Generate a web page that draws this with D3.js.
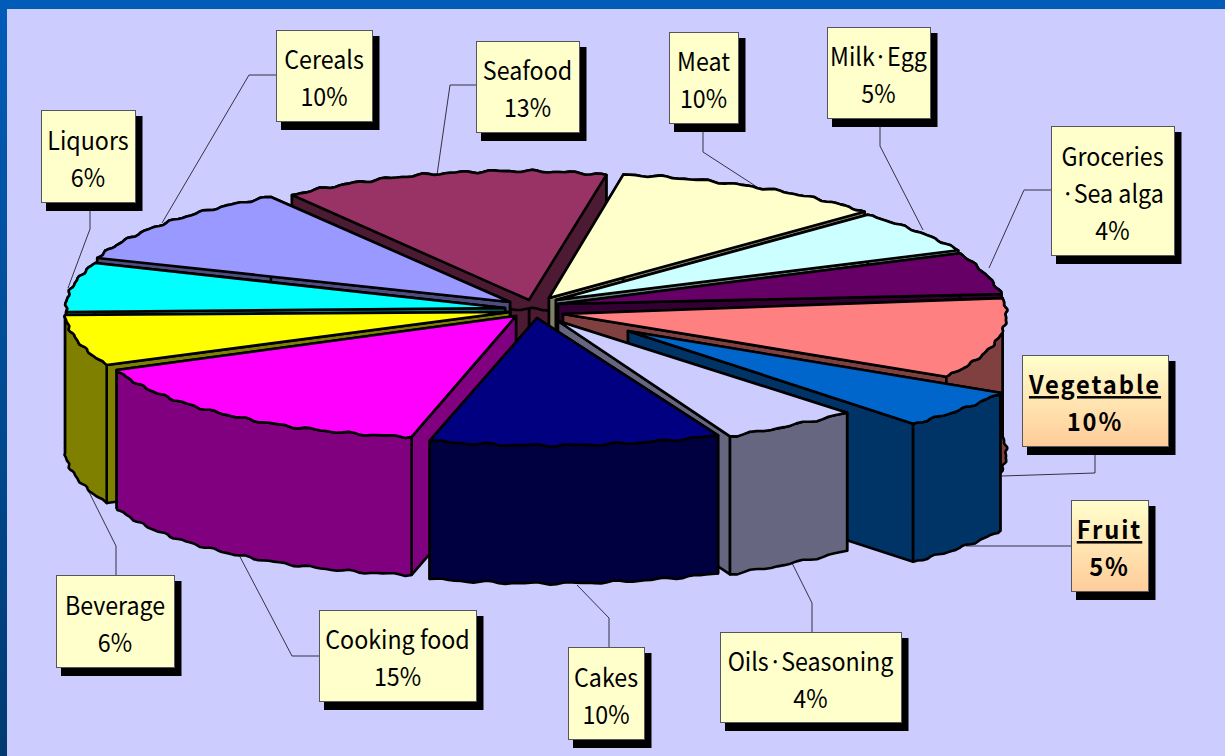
<!DOCTYPE html>
<html><head><meta charset="utf-8">
<script src="https://cdn.jsdelivr.net/npm/d3@7"></script>
<style>html,body{margin:0;padding:0;background:#ccccff;overflow:hidden}svg{display:block}</style>
</head><body><svg id="c" width="1225" height="756"></svg>
<script>
// ---- data ----
const categories = ["Seafood","Meat","Milk·Egg","Groceries\n·Sea alga","Vegetable","Fruit","Oils·Seasoning","Cakes","Cooking food","Beverage","Liquors","Cereals"];
const percents   = [13,10,5,4,10,5,4,10,15,6,6,10];
const emphasised = ["Vegetable","Fruit"];
// ---- styles ----
const topColors  = ["#993366","#ffffcc","#ccffff","#660066","#ff8080","#0066cc","#ccccff","#000080","#ff00ff","#ffff00","#00ffff","#9999ff"];
const sideColors = ["#4d1a33","#808066","#668080","#330033","#804040","#003366","#666680","#000040","#800080","#808000","#008080","#4d4d80"];
// ---- layout (hand-placed, as in the original slide) ----
const rimShifts = [[-8,9.5,-72,1.4],[-55,1,-53,-13],[-50,-10,-26,-14],[-24,-11,-3,-5],[-2,-1,23,-6],[77,10,93,9],[27,-2,14,4],[2,3,9,2],[-9,-2,21,16],[11,11,0,13],[1,10,-8,12.5],[-6,7.5,-29,11.5]];
const apexes = [[529,300],[549,298],[556,300],[558,304],[563,314],[628,331],[558,321],[537,318],[516,316],[510,312],[505,308],[510,302]];
const drawOrder = [0,11,1,10,2,3,9,4,8,5,6,7];
const boxes = [[476,41,103,91],[669,32,69,91],[827,27,103,91],[1051,126,123,129],[1022,355,146,91],[1071,500,77,91],[720,632,181,90],[568,647,76,92],[319,610,157,91],[56,575,118,92],[41,110,94,92],[276,30,96,91]];
const leaders = [
 [[476,85],[450,85],[437,175]],[[703,123],[703,152],[757,187]],[[880,118],[880,146],[923,230]],
 [[1051,190],[1024,190],[989,268]],[[1095,446],[1095,473],[1002,476]],[[1071,546],[966,546]],
 [[812,632],[812,603],[792,563]],[[609,647],[609,618],[577,585]],[[319,656],[292,656],[238,553]],
 [[116,575],[116,546],[78,470]],[[90,202],[90,229],[68,288]],[[276,75],[249,75],[162,223]]];
const cx=535, cy=305, rx=470, ry=138, depth=138;
const fontFamily = "'Noto Sans CJK JP','Noto Sans',sans-serif";

const svg=d3.select("#c");
const defs=svg.append("defs");
const bg=defs.append("linearGradient").attr("id","bg").attr("x1",0).attr("y1",0).attr("x2",0).attr("y2",1);
bg.append("stop").attr("offset",0).attr("stop-color","#005cb8");
bg.append("stop").attr("offset",1).attr("stop-color","#003a70");
const hl=defs.append("linearGradient").attr("id","hl").attr("x1",0).attr("y1",0).attr("x2",0).attr("y2",1);
hl.append("stop").attr("offset",0).attr("stop-color","#ffffcc");
hl.append("stop").attr("offset",1).attr("stop-color","#ffcc99");

svg.append("rect").attr("width",1225).attr("height",756).attr("fill","url(#bg)");
svg.append("rect").attr("x",7).attr("y",9).attr("width",1218).attr("height",747).attr("fill","#ccccff");

// leaders under the pie
const line=d3.line();
svg.append("g").selectAll("path").data(leaders).join("path")
  .attr("d",d=>line(d)).attr("fill","none").attr("stroke","#333344").attr("stroke-width",1);

// pie
const pie=d3.pie().sort(null).startAngle(-30*Math.PI/180).endAngle(330*Math.PI/180);
const arcs=pie(percents);
function rimPoints(a,i){
  const s=rimShifts[i];
  const sx=d3.scaleLinear().domain([a.startAngle,a.endAngle]).range([s[0],s[2]]);
  const sy=d3.scaleLinear().domain([a.startAngle,a.endAngle]).range([s[1],s[3]]);
  const n=Math.max(6,Math.round((a.endAngle-a.startAngle)/(0.8*Math.PI/180)));
  return d3.range(n+1).map(k=>{
    const t=a.startAngle+(a.endAngle-a.startAngle)*k/n;
    const edge=(k===0||k===n)?0:1;
    const w=edge*(0.9*Math.sin(t*67)+0.6*Math.sin(t*113+1));
    return [cx+sx(t)+(rx+w)*Math.sin(t), cy+sy(t)-(ry+w)*Math.cos(t)];
  });
}
const down=p=>[p[0],p[1]+depth];
const g=svg.append("g").attr("stroke","#000").attr("stroke-width",2.6).attr("stroke-linejoin","round");
drawOrder.forEach(i=>{
  const a=arcs[i], rim=rimPoints(a,i), apex=apexes[i];
  const sl=g.append("g").attr("class","slice");
  const first=rim[0], last=rim[rim.length-1];
  const poly=(pts,fill)=>sl.append("path").attr("d",line(pts)+"Z").attr("fill",fill);
  const mid=(a.startAngle+a.endAngle)/2;
  const corners=Math.sin(mid)>0?[first,last]:[last,first]; // the face turned to the viewer goes last
  corners.forEach(c=>poly([apex,c,down(c),down(apex)],sideColors[i]));
  poly(rim.concat(rim.map(down).reverse()),sideColors[i]);
  poly([apex].concat(rim),topColors[i]);
});

// callouts
const cg=svg.append("g");
categories.forEach((c,i)=>{
  const [x,y,w,h]=boxes[i], em=emphasised.includes(c);
  const b=cg.append("g");
  b.append("rect").attr("x",x+5).attr("y",y+6).attr("width",w+2.5).attr("height",h+3).attr("fill","#000");
  b.append("rect").attr("x",x+.5).attr("y",y+.5).attr("width",w).attr("height",h)
    .attr("fill",em?"url(#hl)":"#ffffcc").attr("stroke","#55555f").attr("stroke-width",1);
  const lines=c.split("\n").concat(percents[i]+"%");
  const step=37;
  const y0=y+h/2-step*(lines.length-1)/2+12;
  lines.forEach((t,k)=>{
    b.append("text").attr("transform",`translate(${x+w/2},${y0+k*step}) scale(${em?0.95:0.93},1)`)
     .attr("text-anchor","middle")
     .attr("font-family",fontFamily).attr("font-size",25)
     .attr("font-weight",em?700:400).attr("fill","#000")
     .attr("letter-spacing",em?2:0)
     .attr("text-decoration",(em&&k===0)?"underline":null).text(t);
  });
});
</script></body></html>
